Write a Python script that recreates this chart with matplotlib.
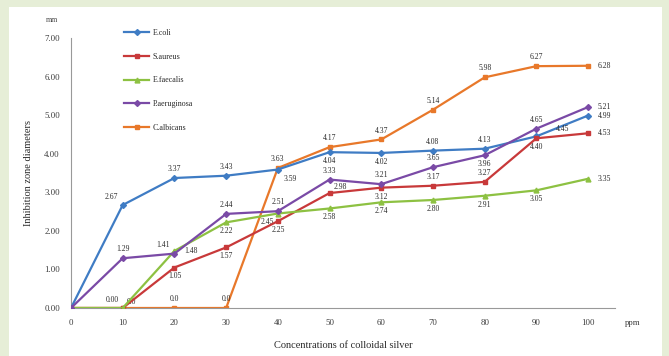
import numpy as np
import matplotlib
matplotlib.use('Agg')
import matplotlib.pyplot as plt
from matplotlib.patches import Rectangle

plt.rcParams['font.family'] = ['Liberation Serif', 'DejaVu Serif']

# concentrations (ppm)
conc = [0, 10, 20, 30, 40, 50, 60, 70, 80, 90, 100]

names = ['E.coli', 'S.aureus', 'E.faecalis', 'P.aeruginosa', 'C.albicans']
ecoli = [0, 2.67, 3.37, 3.43, 3.59, 4.04, 4.02, 4.08, 4.13, 4.45, 4.99]
saureus = [0, 0, 1.05, 1.57, 2.25, 2.98, 3.12, 3.17, 3.27, 4.40, 4.53]
efaecalis = [0, 0, 1.48, 2.22, 2.45, 2.58, 2.74, 2.80, 2.91, 3.05, 3.35]
paerug = [0, 1.29, 1.41, 2.44, 2.51, 3.33, 3.21, 3.65, 3.96, 4.65, 5.21]
calbic = [0, 0, 0, 0, 3.63, 4.17, 4.37, 5.14, 5.98, 6.27, 6.28]

# data label texts ('' = no label)
lab_ecoli = ['', '2.67', '3.37', '3.43', '3.59', '4.04', '4.02', '4.08', '4.13', '4.45', '4.99']
lab_saureus = ['', '', '1.05', '1.57', '2.25', '2.98', '3.12', '3.17', '3.27', '4.40', '4.53']
lab_efaec = ['', '0.00', '1.48', '2.22', '2.45', '2.58', '2.74', '2.80', '2.91', '3.05', '3.35']
lab_paerug = ['', '1.29', '1.41', '2.44', '2.51', '3.33', '3.21', '3.65', '3.96', '4.65', '5.21']
lab_calbic = ['', '0.0', '0.0', '0.0', '3.63', '4.17', '4.37', '5.14', '5.98', '6.27', '6.28']

# label placement: a=above, b=below, r=right, al=above-left, ar=above-right, br=below-right, bl=below-left
pos_ecoli = ['', 'al', 'a', 'a', 'br', 'b', 'b', 'a', 'a', 'far', 'r']
pos_saureus = ['', '', 'b', 'b', 'b', 'ar', 'b', 'a', 'a', 'b', 'r']
pos_efaec = ['', 'al', 'r', 'b', 'bl', 'b', 'b', 'b', 'b', 'b', 'r']
pos_paerug = ['', 'a', 'al', 'a', 'a', 'a', 'a', 'a', 'b', 'a', 'r']
pos_calbic = ['', 'ar', 'a', 'a', 'a', 'a', 'a', 'a', 'a', 'a', 'r']

colors = ['#3f7cc4', '#c8393a', '#8dc142', '#7a4aa6', '#e8782a']
markers = ['D', 's', '^', 'D', 's']
msizes = [3, 3.5, 3.5, 3, 3.5]

offs = {'a': (0, 3.5, 'center', 'bottom'), 'b': (0, -3.5, 'center', 'top'),
        'r': (7, 0, 'left', 'center'), 'al': (-3, 3, 'right', 'bottom'),
        'ar': (3, 1.5, 'left', 'bottom'), 'br': (4, -4, 'left', 'top'),
        'bl': (-3, -3, 'right', 'top'), 'far': (14, 2.5, 'left', 'bottom')}

fig = plt.figure(figsize=(6.69, 3.56), dpi=100)
fig.patch.set_facecolor('#e6eed7')
fig.patches.append(Rectangle((9 / 669, 0), 653 / 669, 349 / 356, transform=fig.transFigure,
                             facecolor='white', edgecolor='none', zorder=-10))

ax = fig.add_axes([71 / 669, 48 / 356, 544 / 669, 270 / 356])
ax.set_facecolor('none')

series = [ecoli, saureus, efaecalis, paerug, calbic]
labels = [lab_ecoli, lab_saureus, lab_efaec, lab_paerug, lab_calbic]
poss = [pos_ecoli, pos_saureus, pos_efaec, pos_paerug, pos_calbic]

for i in range(5):
    ax.plot(conc, series[i], color=colors[i], lw=1.6, marker=markers[i], ms=msizes[i],
            label=names[i], zorder=3 + i * 0.1 if i != 4 else 2.5)
    for x, y, t, p in zip(conc, series[i], labels[i], poss[i]):
        if t == '':
            continue
        dx, dy, ha, va = offs[p]
        ax.annotate(t, (x, y), xytext=(dx, dy), textcoords='offset points',
                    ha=ha, va=va, fontsize=5.5, color='#2a2a2a')

ax.set_xlim(0, 105.2)
ax.set_ylim(0, 7)
ax.set_xticks(conc)
ax.set_yticks(np.arange(0, 7.01, 1))
ax.set_yticklabels(['%.2f' % v for v in np.arange(0, 7.01, 1)])
ax.tick_params(length=0, labelsize=6.3, colors='#3a3a3a', pad=8)
for s in ['top', 'right']:
    ax.spines[s].set_visible(False)
for s in ['left', 'bottom']:
    ax.spines[s].set_color('#999999')
    ax.spines[s].set_linewidth(0.8)

ax.set_ylabel('Inhibition zone diameters', fontsize=7.5, color='#2a2a2a', labelpad=8)
ax.set_xlabel('Concentrations of colloidal silver', fontsize=7.5, color='#2a2a2a', labelpad=10)
fig.text(52 / 669, 1 - 20 / 356, 'mm', fontsize=5.5, color='#444444', ha='center', va='center')
fig.text(633 / 669, 1 - 323 / 356, 'ppm', fontsize=6.3, color='#3a3a3a', ha='center', va='center')

leg = ax.legend(loc='upper left', bbox_to_anchor=(0.085, 1.06), frameon=False, fontsize=5.8,
                labelspacing=1.95, handlelength=3, handletextpad=0.5)
for t in leg.get_texts():
    t.set_color('#2a2a2a')

fig.savefig('out.png', dpi=100, facecolor=fig.get_facecolor())
